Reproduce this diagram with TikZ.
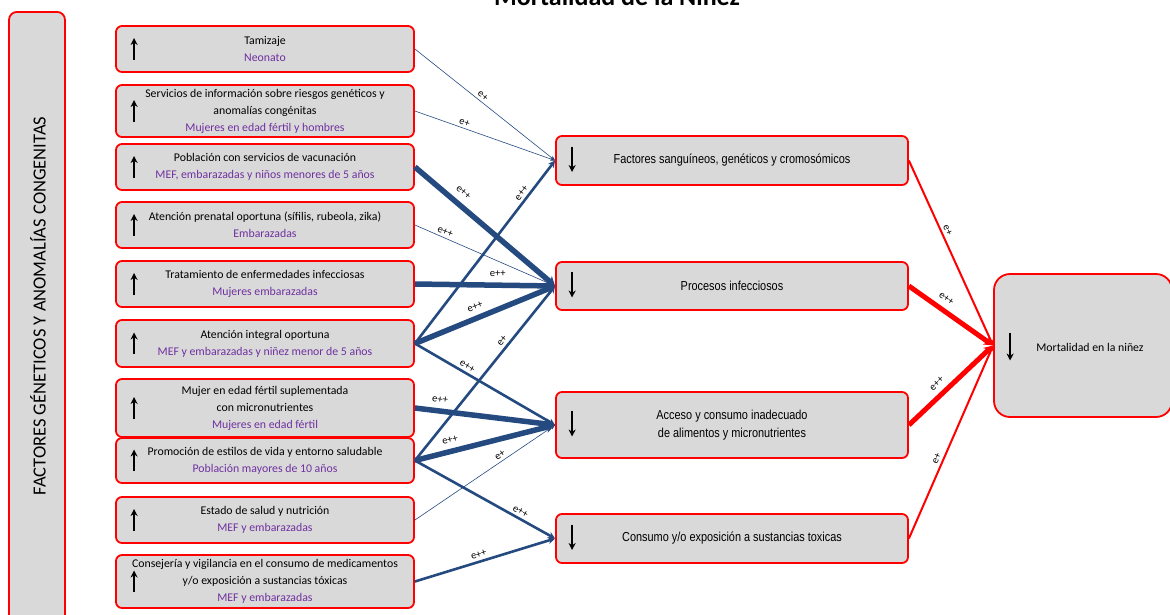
\documentclass[tikz,border=0pt]{standalone}
\usepackage{fontspec}
\setmainfont{Carlito}
\newfontfamily\narrowfont[FakeStretch=0.84]{Liberation Sans}
\usetikzlibrary{arrows.meta,calc}
\definecolor{boxred}{RGB}{255,0,0}
\definecolor{boxgray}{RGB}{217,217,217}
\definecolor{popviolet}{RGB}{112,48,160}
\definecolor{linkblue}{RGB}{36,74,128}
\begin{document}
\begin{tikzpicture}[x=1pt,y=-1pt,
  box/.style={draw=boxred, line width=1.8pt, fill=boxgray, rounded corners=6pt,
    inner sep=0pt, align=center},
  lbox/.style={box, minimum width=298pt, font=\fontsize{11.8}{17}\selectfont},
  mbox/.style={box, minimum width=352pt, font=\narrowfont\fontsize{13}{18}\selectfont},
  pop/.style={text=popviolet},
  trend/.style={-{Stealth[length=7pt,width=7pt]}, line width=1.6pt},
  weak/.style={draw=linkblue, line width=0.6pt, -{Stealth[length=5pt,width=4pt]}},
  medium/.style={draw=linkblue, line width=2.6pt, -{Stealth[length=7pt,width=7pt]}},
  strong/.style={draw=linkblue, line width=5.5pt, -{Stealth[length=9pt,width=11pt]}},
  rweak/.style={draw=boxred, line width=2pt, -{Stealth[length=6pt,width=6pt]}},
  rstrong/.style={draw=boxred, line width=5pt, -{Stealth[length=9pt,width=10pt]}},
  lab/.style={font=\fontsize{10.5}{11}\selectfont, sloped, above=1.5pt, inner sep=1pt}
]
\useasboundingbox (0,0) rectangle (1170,614);

% title, partly above the page
\node[font=\bfseries\fontsize{26}{30}\selectfont, anchor=base] (title) at (617,5)
  {Mortalidad de la Niñez};

% side band
\node[box, rounded corners=8pt, minimum width=56pt, minimum height=620pt, anchor=north]
  (side) at (37,11) {};
\node[rotate=90, font=\fontsize{18.5}{20}\selectfont] (sidetext) at (38,306)
  {FACTORES GÉNETICOS Y ANOMALÍAS CONGENITAS};

% interventions
\node[lbox, minimum height=46pt] (b1) at (265,49)
  {Tamizaje\\ \textcolor{popviolet}{Neonato}};
\node[lbox, minimum height=52pt] (b2) at (265,111)
  {Servicios de información sobre riesgos genéticos y\\ anomalías congénitas\\
   \textcolor{popviolet}{Mujeres en edad fértil y hombres}};
\node[lbox, minimum height=46pt] (b3) at (265,167)
  {Población con servicios de vacunación\\
   \textcolor{popviolet}{MEF, embarazadas y niños menores de 5 años}};
\node[lbox, minimum height=46pt] (b4) at (265,225)
  {Atención prenatal oportuna (sífilis, rubeola, zika)\\
   \textcolor{popviolet}{Embarazadas}};
\node[lbox, minimum height=46pt] (b5) at (265,284)
  {Tratamiento de enfermedades infecciosas\\
   \textcolor{popviolet}{Mujeres embarazadas}};
\node[lbox, minimum height=47pt] (b6) at (265,343.5)
  {Atención integral oportuna\\
   \textcolor{popviolet}{MEF y embarazadas y niñez menor de 5 años}};
\node[lbox, minimum height=58pt] (b7) at (265,408)
  {Mujer en edad fértil suplementada\\ con micronutrientes\\
   \textcolor{popviolet}{Mujeres en edad fértil}};
\node[lbox, minimum height=45pt] (b8) at (265,460.5)
  {Promoción de estilos de vida y entorno saludable\\
   \textcolor{popviolet}{Población mayores de 10 años}};
\node[lbox, minimum height=46pt] (b9) at (265,520)
  {Estado de salud y nutrición\\ \textcolor{popviolet}{MEF y embarazadas}};
\node[lbox, minimum height=53pt] (b10) at (265,581.5)
  {Consejería y vigilancia en el consumo de medicamentos\\
   y/o exposición a sustancias tóxicas\\ \textcolor{popviolet}{MEF y embarazadas}};

% intermediate factors
\node[mbox, minimum height=49pt] (m1) at (732,160.5)
  {Factores sanguíneos, genéticos y cromosómicos};
\node[mbox, minimum height=48pt] (m2) at (732,286) {Procesos infecciosos};
\node[mbox, minimum height=66pt] (m3) at (732,425)
  {Acceso y consumo inadecuado\\ de alimentos y micronutrientes};
\node[mbox, minimum height=49pt] (m4) at (732,538.5)
  {Consumo y/o exposición a sustancias toxicas};

% outcome
\node[box, rounded corners=16pt, minimum width=178pt, minimum height=143pt]
  (mort) at (1083,345.5) {};
\node[font=\fontsize{11.8}{14}\selectfont] (morttext) at (1090,347)
  {Mortalidad en la niñez};

% trend arrows inside the boxes
\foreach \b in {b1,b2,b3,b4,b5,b6,b7,b8,b9,b10}{
  \draw[trend] ($(\b.west)+(19,10.5)$) -- ($(\b.west)+(19,-11)$);
}
\foreach \m in {m1,m2,m3,m4}{
  \draw[trend] ($(\m.west)+(17,-14)$) -- ($(\m.west)+(17,11.5)$);
}
\draw[trend] ($(mort.west)+(17,-13)$) -- ($(mort.west)+(17,15)$);

% links towards the intermediate factors
\draw[weak]   (b1.east) -- node[lab, pos=0.46] {e+}  (m1.west);
\draw[weak]   (b2.east) -- node[lab, pos=0.34] {e+}  (m1.west);
\draw[strong] (b3.east) -- node[lab, pos=0.29, above=4pt] {e++} (m2.west);
\draw[weak]   (b4.east) -- node[lab, pos=0.2]  {e++} (m2.west);
\draw[strong] (b5.east) -- node[lab, pos=0.59, above=3pt] {e++} (m2.west);
\draw[strong] (b6.east) -- node[lab, pos=0.46, above=3pt] {e++} (m2.west);
\draw[medium] (b6.east) -- node[lab, pos=0.8]  {e++} (m1.west);
\draw[medium] (b6.east) -- node[lab, pos=0.35] {e++} (m3.west);
\draw[strong] (b7.east) -- node[lab, pos=0.17, above=3pt] {e++} (m3.west);
\draw[strong] (b8.east) -- node[lab, pos=0.27, above=3pt] {e++} (m3.west);
\draw[medium] (b8.east) -- node[lab, pos=0.66] {e+}  (m2.west);
\draw[medium] (b8.east) -- node[lab, pos=0.73] {e++} (m4.west);
\draw[weak]   (b9.east) -- node[lab, pos=0.63] {e+}  (m3.west);
\draw[medium] (b10.east) -- node[lab, pos=0.47] {e++} (m4.west);

% links towards the outcome
\draw[rweak]   (m1.east) -- node[lab, pos=0.39] {e+}  (mort.west);
\draw[rstrong] (m2.east) -- node[lab, pos=0.37, above=3pt] {e++} (mort.west);
\draw[rstrong] (m3.east) -- node[lab, pos=0.42, above=3pt] {e++} (mort.west);
\draw[rweak]   (m4.east) -- node[lab, pos=0.4]  {e+}  (mort.west);
\end{tikzpicture}
\end{document}
